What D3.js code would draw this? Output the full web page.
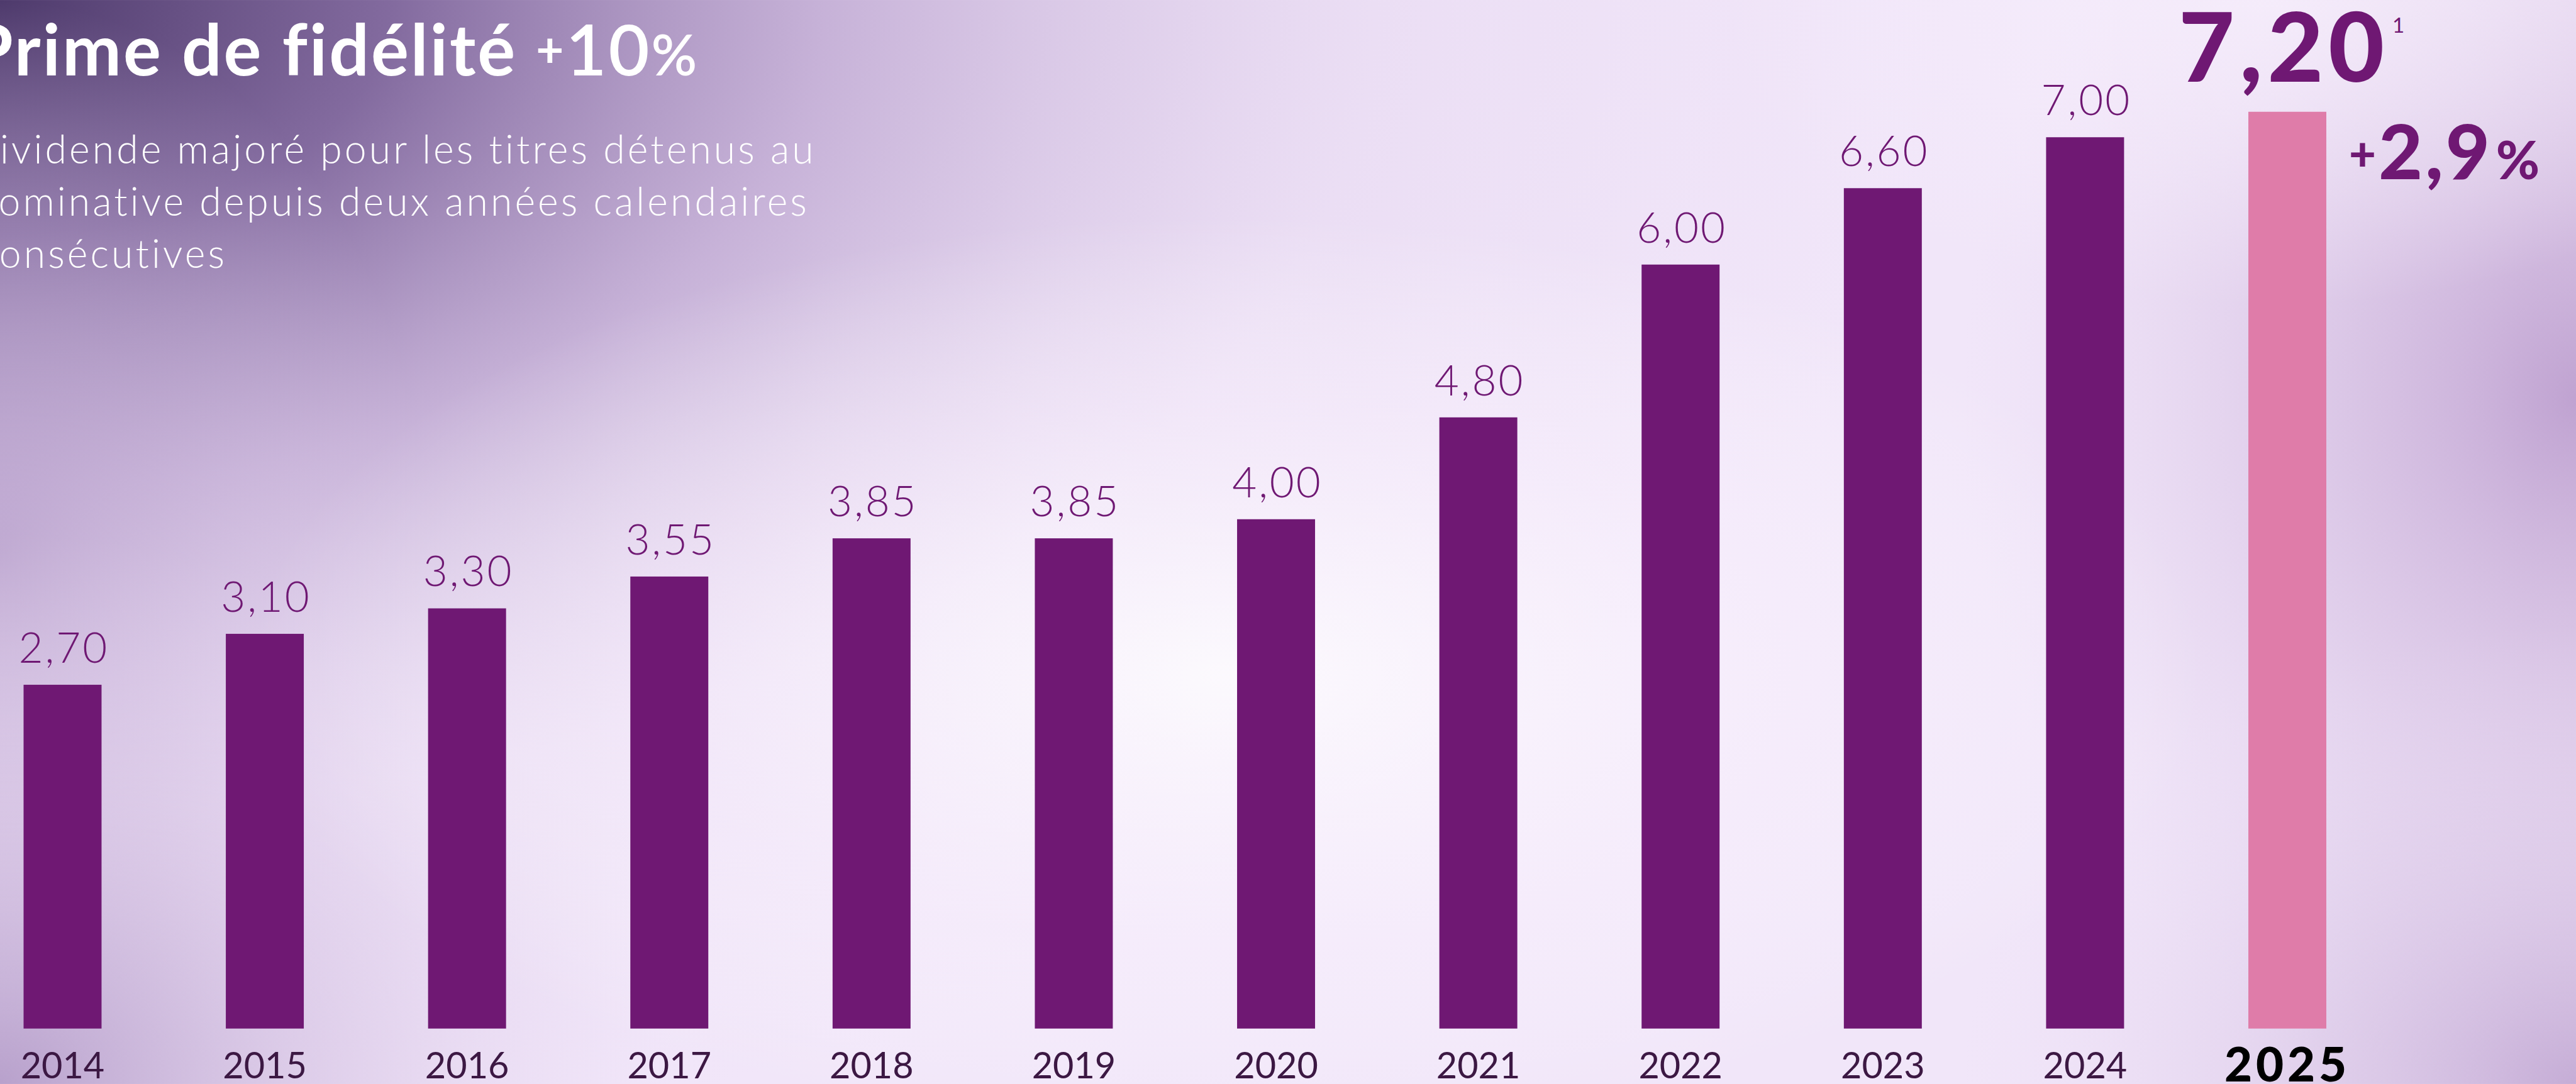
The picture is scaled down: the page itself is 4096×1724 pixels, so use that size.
<!DOCTYPE html>
<html>
<head>
<meta charset="utf-8">
<script src="https://cdn.jsdelivr.net/npm/d3@7"></script>
<style>
    html, body { margin: 0; padding: 0; overflow: hidden; background: #f1e6f9; }
    svg { display: block; }
</style>
</head>
<body>
<div id="chart"></div>
<script>
var width = 4196
var height = 1766

// data
var years = ['2014', '2015', '2016', '2017', '2018', '2019', '2020', '2021', '2022', '2023', '2024', '2025']
var dividends = [2.70, 3.10, 3.30, 3.55, 3.85, 3.85, 4.00, 4.80, 6.00, 6.60, 7.00, 7.20]
var valueLabels = ['2,70', '3,10', '3,30', '3,55', '3,85', '3,85', '4,00', '4,80', '6,00', '6,60', '7,00', '7,20']
var highlightYear = '2025'
var footnote = '1'
var growthLabel = ['+', '2,9', '%']
var titleParts = ['Prime de fidélité ', '+', '10', '%']
var subtitleLines = ['Dividende majoré pour les titres détenus au', 'nominative depuis deux années calendaires', 'consécutives']

var purple = '#6f1873'
var pink = '#df7ca9'

var svg = d3.select('#chart')
    .append('svg')
    .attr('width', 4096)
    .attr('height', 1724)
    .attr('viewBox', '0 0 ' + width + ' ' + height)

// background
var defs = svg.append('defs')

function addRadial(id, cx, cy, rx, ry, stops) {
    var g = defs.append('radialGradient')
        .attr('id', id)
        .attr('gradientUnits', 'userSpaceOnUse')
        .attr('cx', 0).attr('cy', 0).attr('r', 1)
        .attr('gradientTransform', 'translate(' + cx + ',' + cy + ') scale(' + rx + ',' + ry + ')')
    stops.forEach(function (s) {
        g.append('stop')
            .attr('offset', s[0])
            .attr('stop-color', s[1])
            .attr('stop-opacity', s[2])
    })
}

addRadial('bgDark', 0, 0, 3200, 1900, [
    [0, '#4e3a6c', 1],
    [0.2, '#7d649a', 0.95],
    [0.42, '#b096c6', 0.65],
    [0.7, '#d9c6e6', 0.25],
    [1, '#e6d6f0', 0]
])
addRadial('bgLeft', 0, 900, 700, 900, [
    [0, '#b59dc9', 0.6],
    [1, '#e6d6f0', 0]
])
addRadial('bgRight', 4196, 650, 1000, 1150, [
    [0, '#bd9fcf', 0.95],
    [0.5, '#d3bce0', 0.55],
    [1, '#e6d6f0', 0]
])
addRadial('bgBottomLeft', 0, 1766, 1100, 900, [
    [0, '#ae95c4', 0.85],
    [0.5, '#cdb8dc', 0.45],
    [1, '#e6d6f0', 0]
])
addRadial('bgBottomRight', 4196, 1766, 1000, 750, [
    [0, '#bea3d0', 0.85],
    [1, '#e6d6f0', 0]
])
addRadial('bgTopRight', 3700, 0, 900, 500, [
    [0, '#f7effc', 0.8],
    [1, '#f7effc', 0]
])
addRadial('bgGlow', 2000, 1100, 1600, 750, [
    [0, '#ffffff', 0.8],
    [0.6, '#fbf4fe', 0.4],
    [1, '#ffffff', 0]
])

svg.append('rect').attr('width', width).attr('height', height).attr('fill', '#f1e6f9')
var bgIds = ['bgDark', 'bgLeft', 'bgRight', 'bgBottomLeft', 'bgBottomRight', 'bgTopRight', 'bgGlow']
bgIds.forEach(function (id) {
    svg.append('rect')
        .attr('width', width)
        .attr('height', height)
        .attr('fill', 'url(#' + id + ')')
})

// scales
var x = d3.scaleBand()
    .domain(years)
    .range([38.4, 3789.3])
    .paddingInner(0.6145)
    .paddingOuter(0)

var y = d3.scaleLinear()
    .domain([0, 8])
    .range([1675.7, 16.1])

var data = years.map(function (yr, i) {
    return { year: yr, value: dividends[i], label: valueLabels[i] }
})

// bars
svg.selectAll('rect.bar')
    .data(data)
    .enter()
    .append('rect')
    .attr('class', 'bar')
    .attr('x', function (d) { return x(d.year) })
    .attr('y', function (d) { return y(d.value) })
    .attr('width', x.bandwidth())
    .attr('height', function (d) { return y(0) - y(d.value) })
    .attr('fill', function (d) { return d.year === highlightYear ? pink : purple })

// value labels
svg.selectAll('text.value')
    .data(data.filter(function (d) { return d.year !== highlightYear }))
    .enter()
    .append('text')
    .attr('class', 'value')
    .attr('x', function (d) { return x(d.year) + x.bandwidth() / 2 + 2 })
    .attr('y', function (d) { return y(d.value) - 36 })
    .attr('text-anchor', 'middle')
    .attr('font-family', 'Lato')
    .attr('font-weight', 300)
    .attr('font-size', 69)
    .attr('letter-spacing', 3)
    .attr('fill', purple)
    .text(function (d) { return d.label })

// highlighted value
var last = data[data.length - 1]
var cx = x(last.year) + x.bandwidth() / 2
svg.append('text')
    .attr('x', cx - 177)
    .attr('y', 133)
    .attr('textLength', 335)
    .attr('lengthAdjust', 'spacing')
    .attr('font-family', 'Lato')
    .attr('font-weight', 900)
    .attr('font-size', 157)
    .attr('fill', purple)
    .text(last.label)
svg.append('text')
    .attr('x', cx + 171)
    .attr('y', 53)
    .attr('font-family', 'Lato')
    .attr('font-weight', 400)
    .attr('font-size', 34)
    .attr('fill', purple)
    .text(footnote)

var growth = svg.append('text')
    .attr('x', x(last.year) + x.bandwidth() + 37)
    .attr('y', 292)
    .attr('font-family', 'Lato')
    .attr('font-weight', 900)
    .attr('fill', purple)
growth.append('tspan').attr('font-size', 76).attr('dy', -14).text(growthLabel[0])
growth.append('tspan').attr('font-size', 124).attr('dy', 14).attr('dx', 4).attr('letter-spacing', 4).text(growthLabel[1])
growth.append('tspan').attr('font-size', 86).attr('dx', 6).text(growthLabel[2])

// year axis
var xAxis = d3.axisBottom(x).tickSize(0).tickPadding(0)
var axisG = svg.append('g')
    .attr('transform', 'translate(0,' + y(0) + ')')
    .call(xAxis)
axisG.select('.domain').remove()
axisG.selectAll('text')
    .attr('dy', null)
    .attr('y', 81)
    .attr('font-family', 'Lato')
    .attr('font-weight', 400)
    .attr('font-size', 59)
    .attr('fill', '#3c1843')
axisG.selectAll('.tick')
    .filter(function (d) { return d === highlightYear })
    .select('text')
    .attr('y', 86)
    .attr('font-weight', 900)
    .attr('font-size', 78)
    .attr('letter-spacing', 6)
    .attr('fill', '#000000')

// title
var title = svg.append('text')
    .attr('x', -50)
    .attr('y', 123)
    .attr('font-family', 'Lato')
    .attr('font-weight', 700)
    .attr('font-size', 115)
    .attr('letter-spacing', 3)
    .attr('fill', '#ffffff')
title.append('tspan').text(titleParts[0])
title.append('tspan').attr('font-size', 78).attr('dy', -14).text(titleParts[1])
title.append('tspan').attr('font-weight', 600).attr('dy', 14).text(titleParts[2])
title.append('tspan').attr('font-weight', 600).attr('font-size', 92).text(titleParts[3])

// subtitle
var subX = [-52, -42, -35]
svg.selectAll('text.sub')
    .data(subtitleLines)
    .enter()
    .append('text')
    .attr('class', 'sub')
    .attr('x', function (d, i) { return subX[i] })
    .attr('y', function (d, i) { return 266 + i * 85 })
    .attr('font-family', 'Lato')
    .attr('font-weight', 300)
    .attr('font-size', 64)
    .attr('letter-spacing', 4.2)
    .attr('fill', '#ffffff')
    .text(function (d) { return d })
</script>
</body>
</html>
